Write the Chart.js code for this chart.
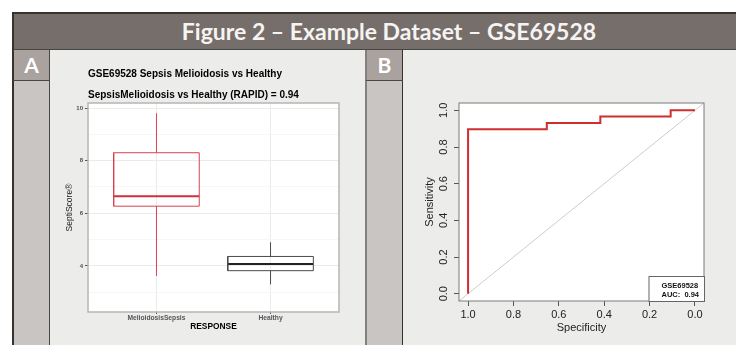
<!DOCTYPE html>
<html><head><meta charset="utf-8">
<script src="https://cdn.jsdelivr.net/npm/chart.js@4.4.0/dist/chart.umd.min.js"></script>
<style>
html,body{margin:0;padding:0;background:#fff;width:736px;height:345px;overflow:hidden;}
#fig{position:relative;width:736px;height:345px;}
.abs{position:absolute;box-sizing:border-box;}
#hdr{left:12px;top:12px;width:724px;height:39px;background:#766e6a;border-top:2px solid #36332f;border-left:2px solid #36332f;border-bottom:2px solid #46453f;color:#f6f4f2;font:bold 23px Lato;text-align:center;line-height:35px;padding-left:28px;}
.strip{background:#c9c5c2;}
.lab{background:#a9a29e;color:#fff;font:bold 21px Lato;text-align:center;line-height:30px;}
.main{background:#ececea;}
canvas{position:absolute;}
</style></head>
<body><div id="fig">
<div id="hdr" class="abs">Figure 2 – Example Dataset – GSE69528</div>
<div class="abs strip" style="left:12px;top:50px;width:38px;height:295px;border-left:2px solid #36332f;border-right:1px solid #4a4744;"></div>
<div class="abs lab" style="left:12px;top:50px;width:38px;height:31px;border-left:2px solid #36332f;border-right:1px solid #4a4744;border-bottom:1px solid #4a4744;">A</div>
<div class="abs main" style="left:50px;top:50px;width:315px;height:295px;"></div>
<div class="abs strip" style="left:365px;top:50px;width:38px;height:295px;border-left:2px solid #84807d;border-right:1px solid #36332f;"></div>
<div class="abs lab" style="left:365px;top:50px;width:38px;height:31px;border-left:2px solid #84807d;border-right:1px solid #36332f;border-bottom:1px solid #4a4744;">B</div>
<div class="abs main" style="left:403px;top:50px;width:333px;height:295px;"></div>
<canvas id="cA" width="315" height="295" style="left:50px;top:50px;"></canvas>
<canvas id="cB" width="333" height="295" style="left:403px;top:50px;"></canvas>
</div>
<script>
// ---------- Panel A data (box plot) ----------
const categories = ['MelioidosisSepsis', 'Healthy'];
const whiskerLow  = [3.62, 3.30];
const q1          = [6.27, 3.82];
const median      = [6.65, 4.07];
const q3          = [8.30, 4.36];
const whiskerHigh = [9.80, 4.90];
const yTicksA = [3, 4, 5, 6, 7, 8, 9, 10];
const titleA = 'GSE69528 Sepsis Melioidosis vs Healthy';
const subtitleA = 'SepsisMelioidosis vs Healthy (RAPID) = 0.94';

// ---------- Panel B data (ROC) ----------
const specificity = [1.0, 1.0, 0.653, 0.653, 0.417, 0.417, 0.107, 0.107, 0.0];
const sensitivity = [0.0, 0.897, 0.897, 0.931, 0.931, 0.966, 0.966, 1.0, 1.0];
const rocTicks = [0.0, 0.2, 0.4, 0.6, 0.8, 1.0];
const legendName = 'GSE69528';
const aucValue = 0.94;

// ---------- styles ----------
const boxColors = ['#d8404c', '#4a4a4a'];
const medianColors = ['#d0303c', '#222222'];
const FONT = 'Liberation Sans, Arial, sans-serif';
const halfW = 0.375;

const frame = (color, lw) => ({
  id: 'frame',
  beforeDraw(chart) {
    const a = chart.chartArea, c = chart.ctx;
    c.save(); c.fillStyle = '#ffffff';
    c.fillRect(a.left, a.top, a.right - a.left, a.bottom - a.top);
    c.restore();
  },
  afterDatasetsDraw(chart) {
    const a = chart.chartArea, c = chart.ctx;
    c.save(); c.strokeStyle = color; c.lineWidth = lw;
    c.strokeRect(a.left, a.top, a.right - a.left, a.bottom - a.top);
    c.restore();
  }
});

// ----- Chart A -----
const dsA = [];
categories.forEach((cat, i) => {
  const p = i + 1;
  const base = {showLine: true, pointRadius: 0, borderColor: boxColors[i], borderWidth: 1, fill: false};
  dsA.push(Object.assign({}, base, {label: cat + ' box', data: [
    {x: p - halfW, y: q1[i]}, {x: p + halfW, y: q1[i]}, {x: p + halfW, y: q3[i]},
    {x: p - halfW, y: q3[i]}, {x: p - halfW, y: q1[i]}]}));
  dsA.push(Object.assign({}, base, {label: cat + ' median', borderColor: medianColors[i], borderWidth: 2,
    data: [{x: p - halfW, y: median[i]}, {x: p + halfW, y: median[i]}]}));
  dsA.push(Object.assign({}, base, {label: cat + ' upper', data: [{x: p, y: q3[i]}, {x: p, y: whiskerHigh[i]}]}));
  dsA.push(Object.assign({}, base, {label: cat + ' lower', data: [{x: p, y: whiskerLow[i]}, {x: p, y: q1[i]}]}));
});

new Chart(document.getElementById('cA'), {
  type: 'scatter',
  data: {datasets: dsA},
  options: {
    responsive: false, animation: false, devicePixelRatio: 1,
    layout: {padding: {top: 0, right: 26, left: 0, bottom: 0}},
    plugins: {
      legend: {display: false}, tooltip: {enabled: false},
      title: {display: true, text: titleA, align: 'start', fullSize: false, color: '#000',
        font: {family: FONT, size: 10, weight: 'bold', lineHeight: 1.2}, padding: {top: 18, bottom: 3}},
      subtitle: {display: true, text: subtitleA, align: 'start', fullSize: false, color: '#000',
        font: {family: FONT, size: 10, weight: 'bold', lineHeight: 1.2}, padding: {top: 6, bottom: 2}}
    },
    scales: {
      x: {type: 'linear', min: 0.4, max: 2.6,
        afterBuildTicks: s => { s.ticks = categories.map((c, i) => ({value: i + 1})); },
        afterFit: s => { s.height = 33; },
        ticks: {callback: v => categories[v - 1], color: '#555', padding: 0, maxRotation: 0,
          font: {family: FONT, size: 6.7, weight: 'bold'}},
        grid: {color: '#ebebeb', lineWidth: 1, tickLength: 2, tickColor: '#555'},
        border: {display: false},
        title: {display: true, text: 'RESPONSE', color: '#000', padding: {top: 0, bottom: 13},
          font: {family: FONT, size: 8.4, weight: 'bold', lineHeight: 1.2}}
      },
      y: {type: 'linear', min: 2.25, max: 10.19,
        afterBuildTicks: s => { s.ticks = yTicksA.map(v => ({value: v})); },
        afterFit: s => { s.width = 38; },
        ticks: {callback: v => (v % 2 === 0 ? String(v) : ''), color: '#4d4d4d', padding: 2,
          font: {family: FONT, size: 6, weight: 'bold'}},
        grid: {color: c => (c.tick && c.tick.value % 2 === 0 ? '#ebebeb' : '#f4f4f4'),
          lineWidth: c => (c.tick && c.tick.value % 2 === 0 ? 1 : 0.7),
          tickLength: 3,
          tickColor: c => (c.tick && c.tick.value % 2 === 0 ? '#555' : 'rgba(0,0,0,0)')},
        border: {display: false},
        title: {display: true, text: 'SeptiScore®', color: '#222', padding: {top: 15, bottom: 0},
          font: {family: FONT, size: 8.5, lineHeight: 1.2}}
      }
    }
  },
  plugins: [frame('#b5b5b5', 1.5)]
});

// ----- Chart B -----
const rocData = specificity.map((s, i) => ({x: s, y: sensitivity[i]}));
const legendPlugin = {
  id: 'aucLegend',
  afterDatasetsDraw(chart) {
    const a = chart.chartArea, c = chart.ctx;
    const line2 = 'AUC:  ' + aucValue.toFixed(2);
    c.save();
    c.font = 'bold 7.5px ' + FONT;
    const w = Math.max(c.measureText(legendName).width, c.measureText(line2).width);
    const bw = w + 18, bh = 25;
    const left = a.right - bw, top = a.bottom - bh;
    c.fillStyle = '#fff'; c.fillRect(left, top, bw, bh);
    c.strokeStyle = '#666'; c.lineWidth = 1;
    c.strokeRect(left + 0.5, top + 0.5, bw, bh);
    c.fillStyle = '#111'; c.textBaseline = 'middle'; c.textAlign = 'left';
    c.fillText(legendName, left + 13, a.bottom - 15);
    c.fillText(line2, left + 13, a.bottom - 6);
    c.restore();
  }
};

new Chart(document.getElementById('cB'), {
  type: 'scatter',
  data: {datasets: [
    {label: 'ROC', data: rocData, showLine: true, pointRadius: 0, borderColor: '#cf2e2e', borderWidth: 2, fill: false},
    {label: 'chance', data: [{x: 1.04, y: -0.04}, {x: -0.04, y: 1.04}], showLine: true, pointRadius: 0,
      borderColor: '#cdcdcd', borderWidth: 1, fill: false}
  ]},
  options: {
    responsive: false, animation: false, devicePixelRatio: 1,
    layout: {padding: {top: 53, right: 32, left: 0, bottom: 0}},
    plugins: {legend: {display: false}, tooltip: {enabled: false}},
    scales: {
      x: {type: 'linear', reverse: true, min: -0.04, max: 1.04,
        afterBuildTicks: s => { s.ticks = rocTicks.map(v => ({value: v})); },
        afterFit: s => { s.height = 44; },
        ticks: {callback: v => v.toFixed(1), color: '#222', padding: 2.4, maxRotation: 0,
          font: {family: FONT, size: 11}},
        grid: {drawOnChartArea: false, tickLength: 5, tickColor: '#555'},
        border: {display: false},
        title: {display: true, text: 'Specificity', color: '#222', padding: {top: 0, bottom: 10.4},
          font: {family: FONT, size: 11, lineHeight: 1.2}}
      },
      y: {type: 'linear', min: -0.04, max: 1.04,
        afterBuildTicks: s => { s.ticks = rocTicks.map(v => ({value: v})); },
        afterFit: s => { s.width = 56; },
        ticks: {callback: v => v.toFixed(1), color: '#222', padding: 2, minRotation: 90, maxRotation: 90,
          crossAlign: 'center', font: {family: FONT, size: 11}},
        grid: {drawOnChartArea: false, tickLength: 5, tickColor: '#555'},
        border: {display: false},
        title: {display: true, text: 'Sensitivity', color: '#222', padding: {top: 20.4, bottom: 0},
          font: {family: FONT, size: 11, lineHeight: 1.2}}
      }
    }
  },
  plugins: [frame('#7a7a7a', 1), legendPlugin]
});
</script>
</body></html>
